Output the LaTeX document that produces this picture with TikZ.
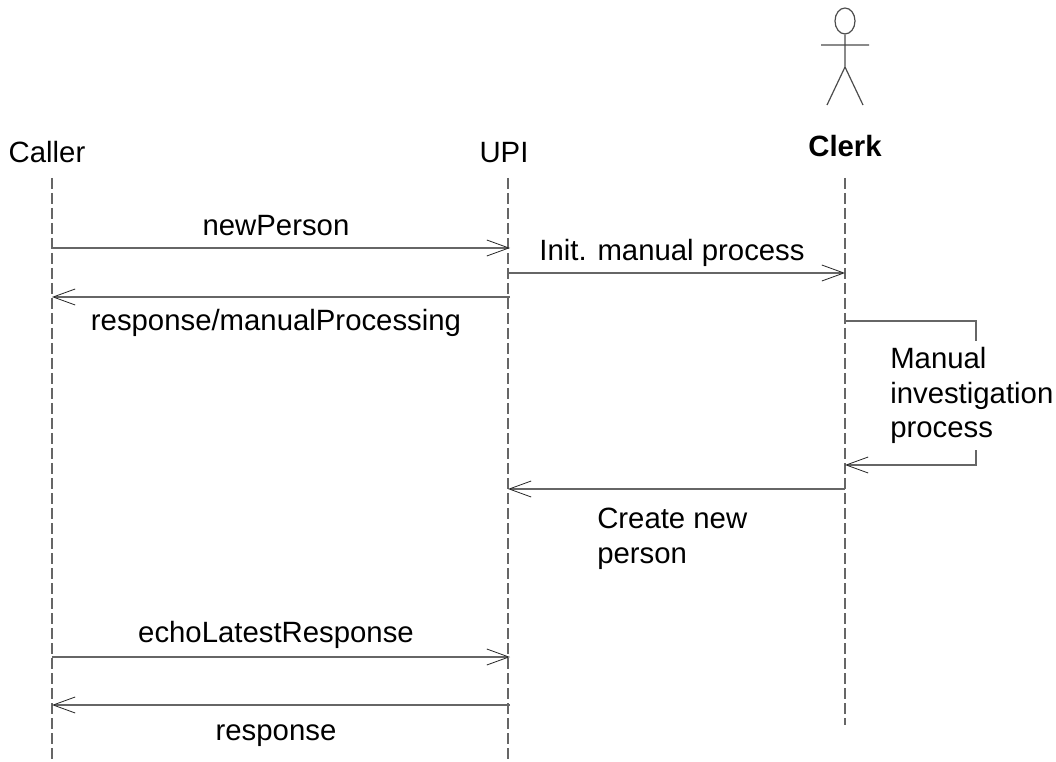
\documentclass[tikz,border=0pt]{standalone}
\usepackage{fontspec}
\setmainfont{Liberation Sans}
\usetikzlibrary{arrows.meta,shapes.geometric,positioning}
\tikzset{x=0.75pt, y=-0.75pt, % one unit is one pixel of the reference
>={Straight Barb[length=16.5pt,width=12pt,line width=0.6pt,color=black!85]}, % open arrow heads
lifeline/.style={dash pattern=on 8.25pt off 3pt, draw=black!60, line width=0.9pt}, % the dashed lines
msg/.style={->, draw=black!60, line width=1pt}, % the messages
actorline/.style={draw=black!70, line width=0.9pt}, % the stick figure
lbl/.style={inner sep=0pt, anchor=base, font=\fontsize{22}{26}\selectfont}, % all the texts
}
\begin{document}
\begin{tikzpicture}
\useasboundingbox (0,0) rectangle (1056,762);
% actor
\node[actorline, draw, ellipse, minimum width=15pt, minimum height=19.5pt, inner sep=0pt] (head) at (845,21) {};
\coordinate (hip) at (845,67);
\coordinate (armL) at (821,45);
\coordinate (armR) at (869,45);
\coordinate (footL) at (827,105);
\coordinate (footR) at (863,105);
\draw[actorline] (head) -- (hip) (armL) -- (armR) (footL) -- (hip) -- (footR);
% lifeline heads
\node[lbl] (caller) at (47,163) {Caller};
\node[lbl] (upi) at (504,163) {UPI};
\node[lbl, font=\fontsize{22}{26}\selectfont\bfseries] (clerk) at (845,157) {Clerk};
\coordinate (callerTop) at (52,178);
\coordinate (callerEnd) at (52,762);
\coordinate (upiTop) at (508,178);
\coordinate (upiEnd) at (508,762);
\coordinate (clerkTop) at (845,178);
\coordinate (clerkEnd) at (845,725);
\draw[lifeline] (callerTop) -- (callerEnd);
\draw[lifeline] (upiTop) -- (upiEnd);
\draw[lifeline] (clerkTop) -- (clerkEnd);
% end points on the lifelines
\foreach \n/\y in {a/248,c/297,g/657,h/705} {
  \coordinate (caller\n) at (52,\y);
  \coordinate (upi\n) at (510,\y);
}
\foreach \n/\y in {b/273,f/489} {
  \coordinate (upi\n) at (508,\y);
  \coordinate (clerk\n) at (845,\y);
}
\coordinate (clerkd) at (845,321);
\coordinate (clerke) at (845,465);
\coordinate (turnd) at (976,321);
\coordinate (turne) at (976,465);
% messages
\draw[msg] (callera) -- (upia);
\draw[msg] (upib) -- (clerkb);
\draw[msg] (upic) -- (callerc);
\draw[msg] (clerkd) -- (turnd) -- (turne) -- (clerke);
\draw[msg] (clerkf) -- (upif);
\draw[msg] (callerg) -- (upig);
\draw[msg] (upih) -- (callerh);
% labels
\node[lbl] (newperson) at (276,236) {newPerson};
\node[lbl] (init) at (672,261) {Init. manual process};
\node[lbl] (respmanual) at (276,331) {response/manualProcessing};
\node[lbl, align=left, anchor=north west, fill=white, inner ysep=4.5pt] (manual) at (890,341) {Manual\\investigation\\process};
\node[lbl, align=left, anchor=base west] (create1) at (597,528) {Create new};
\node[lbl, align=left, anchor=base west] (create2) at (597,563) {person};
\node[lbl] (echo) at (276,642) {echoLatestResponse};
\node[lbl] (resp) at (276,740) {response};
\end{tikzpicture}
\end{document}
